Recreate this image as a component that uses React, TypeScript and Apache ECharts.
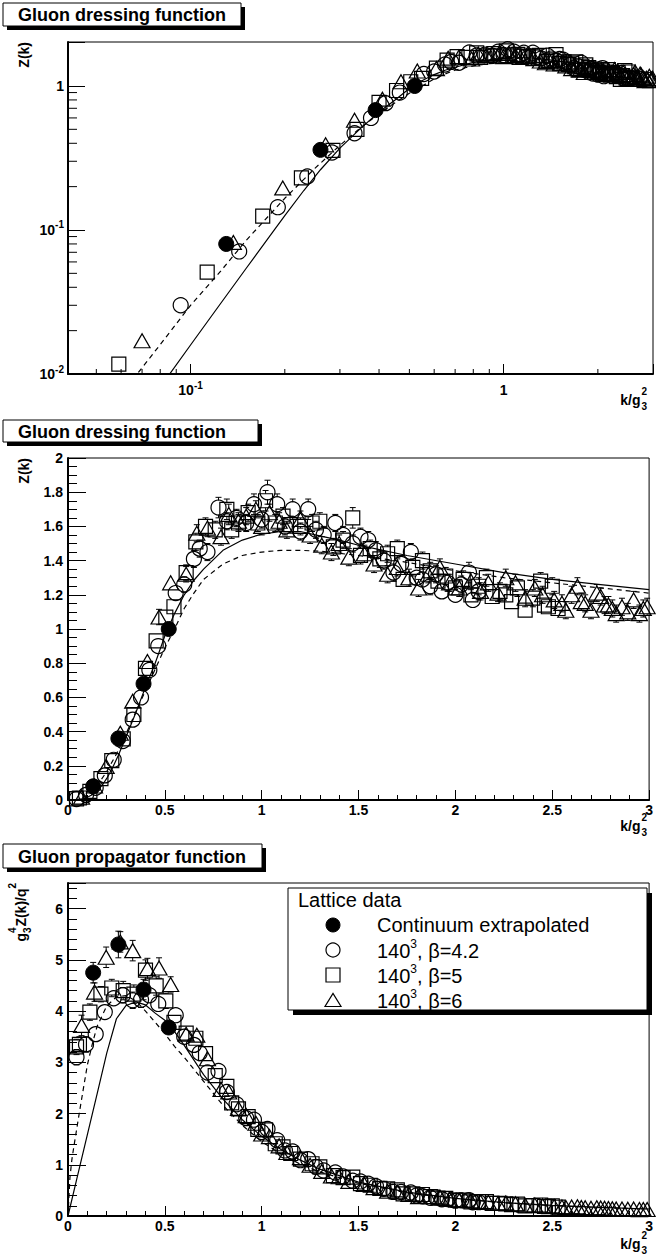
import React, { useEffect, useRef } from "react";
import * as echarts from "echarts";

const FONT = '"Liberation Sans", Arial, Helvetica, sans-serif';

// ---------- Continuum extrapolated (filled circles) ----------
const kCont = [0.13, 0.26, 0.39, 0.52];
const zCont = [0.08, 0.36, 0.68, 1.0];
const zContErr = [0.004, 0.015, 0.02, 0.02];
const dCont = [4.75, 5.3, 4.42, 3.68];
const dContErr = [0.2, 0.26, 0.2, 0.08];

// ---------- 140^3, beta=4.2 (open circles) ----------
const k42 = [
  0.044, 0.093, 0.143, 0.19, 0.236, 0.283, 0.334, 0.377, 0.42, 0.466,
  0.556, 0.6, 0.65, 0.68, 0.72, 0.777, 0.82, 0.87, 0.92, 0.96,
  1.0, 1.03, 1.08, 1.12, 1.16, 1.2, 1.24, 1.28, 1.32, 1.38,
  1.42, 1.47, 1.51, 1.55, 1.59, 1.63, 1.68, 1.72, 1.77, 1.8,
  1.83, 1.87, 1.9, 1.93, 1.96, 2.0, 2.03, 2.07, 2.09, 2.12,
];
const z42 = [
  0.006, 0.03, 0.071, 0.144, 0.235, 0.345, 0.47, 0.6, 0.76, 0.9,
  1.21, 1.26, 1.41, 1.47, 1.45, 1.71, 1.63, 1.65, 1.62, 1.73,
  1.64, 1.8, 1.73, 1.6, 1.7, 1.57, 1.7, 1.58, 1.55, 1.62,
  1.55, 1.5, 1.54, 1.52, 1.46, 1.4, 1.33, 1.38, 1.45, 1.3,
  1.29, 1.25, 1.32, 1.22, 1.27, 1.2, 1.26, 1.33, 1.17, 1.22,
];
const z42Err = [
  0.002, 0.003, 0.005, 0.007, 0.01, 0.012, 0.015, 0.018, 0.02, 0.025,
  0.04, 0.045, 0.05, 0.05, 0.05, 0.06, 0.05, 0.05, 0.05, 0.06,
  0.05, 0.07, 0.06, 0.05, 0.06, 0.05, 0.06, 0.05, 0.05, 0.05,
  0.05, 0.05, 0.05, 0.05, 0.05, 0.05, 0.05, 0.05, 0.05, 0.04,
  0.04, 0.05, 0.05, 0.04, 0.05, 0.04, 0.05, 0.06, 0.04, 0.05,
];
const d42 = [
  3.1, 3.35, 3.55, 3.98, 4.25, 4.31, 4.21, 4.22, 4.31, 4.14,
  3.92, 3.5, 3.34, 3.18, 2.8, 2.83, 2.42, 2.18, 1.91, 1.88,
  1.64, 1.7, 1.48, 1.28, 1.26, 1.09, 1.11, 0.96, 0.89, 0.85,
  0.77, 0.69, 0.675, 0.63, 0.58, 0.53, 0.47, 0.47, 0.46, 0.4,
  0.385, 0.357, 0.366, 0.328, 0.33, 0.3, 0.306, 0.31, 0.268, 0.27,
];
const d42Err = [
  0.15, 0.15, 0.14, 0.13, 0.14, 0.15, 0.16, 0.15, 0.14, 0.14,
  0.13, 0.125, 0.12, 0.11, 0.1, 0.1, 0.075, 0.066, 0.059, 0.065,
  0.05, 0.066, 0.051, 0.04, 0.045, 0.035, 0.039, 0.03, 0.029, 0.026,
  0.025, 0.023, 0.022, 0.021, 0.02, 0.019, 0.018, 0.017, 0.016, 0.012,
  0.012, 0.014, 0.014, 0.011, 0.013, 0.01, 0.012, 0.014, 0.009, 0.011,
];

// ---------- 140^3, beta=5 (open squares) ----------
const k5 = [
  0.044, 0.059, 0.113, 0.17, 0.226, 0.285, 0.34, 0.4, 0.455, 0.505,
  0.547, 0.61, 0.66, 0.71, 0.76, 0.82, 0.845, 0.88, 0.93, 0.98,
  1.02, 1.07, 1.11, 1.15, 1.2, 1.26, 1.3, 1.37, 1.42, 1.47,
  1.51, 1.56, 1.61, 1.65, 1.7, 1.73, 1.78, 1.83, 1.87, 1.91,
  1.95, 2.0, 2.04, 2.08, 2.12, 2.16, 2.19, 2.23, 2.26, 2.29,
  2.32, 2.36, 2.4, 2.44, 2.46, 2.48, 2.5, 2.53,
];
const z5 = [
  0.0064, 0.0117, 0.051, 0.125, 0.23, 0.357, 0.5, 0.77, 0.93, 1.07,
  1.13, 1.33, 1.51, 1.6, 1.58, 1.7, 1.58, 1.62, 1.68, 1.62,
  1.75, 1.62, 1.66, 1.61, 1.6, 1.62, 1.63, 1.48, 1.52, 1.65,
  1.43, 1.47, 1.41, 1.44, 1.47, 1.29, 1.36, 1.4, 1.34, 1.28,
  1.31, 1.24, 1.29, 1.2, 1.25, 1.3, 1.19, 1.22, 1.2, 1.16,
  1.24, 1.11, 1.18, 1.28, 1.14, 1.13, 1.25, 1.12,
];
const z5Err = [
  0.001, 0.002, 0.004, 0.007, 0.01, 0.013, 0.017, 0.02, 0.025, 0.03,
  0.035, 0.045, 0.05, 0.05, 0.05, 0.06, 0.05, 0.05, 0.05, 0.05,
  0.06, 0.05, 0.05, 0.05, 0.05, 0.05, 0.05, 0.05, 0.05, 0.06,
  0.05, 0.05, 0.05, 0.05, 0.05, 0.04, 0.05, 0.05, 0.05, 0.04,
  0.05, 0.04, 0.05, 0.04, 0.05, 0.05, 0.04, 0.05, 0.04, 0.04,
  0.05, 0.04, 0.05, 0.05, 0.04, 0.04, 0.05, 0.04,
];
const d5 = [
  3.3, 3.35, 3.98, 4.33, 4.45, 4.4, 4.33, 4.8, 4.49, 4.2,
  3.78, 3.57, 3.47, 3.17, 2.74, 2.53, 2.21, 2.09, 1.94, 1.69,
  1.68, 1.41, 1.35, 1.22, 1.11, 1.02, 0.96, 0.79, 0.75, 0.76,
  0.63, 0.6, 0.54, 0.53, 0.51, 0.43, 0.43, 0.42, 0.38, 0.35,
  0.345, 0.31, 0.31, 0.277, 0.278, 0.279, 0.248, 0.245, 0.235, 0.221,
  0.23, 0.199, 0.205, 0.215, 0.188, 0.184, 0.2, 0.175,
];
const d5Err = [
  0.15, 0.15, 0.16, 0.15, 0.17, 0.18, 0.18, 0.2, 0.18, 0.15,
  0.12, 0.12, 0.115, 0.1, 0.087, 0.09, 0.07, 0.065, 0.058, 0.052,
  0.055, 0.044, 0.04, 0.038, 0.035, 0.031, 0.03, 0.027, 0.025, 0.028,
  0.022, 0.021, 0.019, 0.018, 0.017, 0.013, 0.016, 0.015, 0.014, 0.011,
  0.013, 0.01, 0.012, 0.009, 0.011, 0.011, 0.008, 0.01, 0.008, 0.008,
  0.009, 0.007, 0.009, 0.008, 0.007, 0.007, 0.008, 0.006,
];

// ---------- 140^3, beta=6 (open triangles) ----------
const k6 = [
  0.07, 0.137, 0.197, 0.27, 0.334, 0.41, 0.47, 0.53, 0.61, 0.665,
  0.72, 0.79, 0.83, 0.88, 0.92, 0.97, 1.0, 1.04, 1.09, 1.13,
  1.2, 1.25, 1.31, 1.36, 1.4, 1.45, 1.53, 1.58, 1.65, 1.7,
  1.76, 1.81, 1.86, 1.92, 1.97, 2.02, 2.08, 2.13, 2.17, 2.22,
  2.26, 2.31, 2.36, 2.41, 2.45, 2.51, 2.55, 2.57, 2.6, 2.63,
  2.65, 2.67, 2.7, 2.73, 2.75, 2.77, 2.79, 2.81, 2.83, 2.86,
  2.89, 2.92, 2.95, 2.97, 2.99,
];
const z6 = [
  0.017, 0.082, 0.196, 0.39, 0.578, 0.81, 1.07, 1.27, 1.32, 1.56,
  1.59, 1.54, 1.67, 1.63, 1.66, 1.7, 1.6, 1.68, 1.63, 1.58,
  1.64, 1.55, 1.49, 1.45, 1.5, 1.42, 1.44, 1.38, 1.32, 1.36,
  1.3, 1.24, 1.32, 1.36, 1.27, 1.24, 1.28, 1.22, 1.27, 1.21,
  1.3, 1.27, 1.18, 1.24, 1.2, 1.17, 1.15, 1.11, 1.2, 1.25,
  1.16, 1.15, 1.11, 1.21, 1.19, 1.14, 1.14, 1.12, 1.09, 1.13,
  1.1, 1.17, 1.09, 1.12, 1.13,
];
const z6Err = [
  0.001, 0.004, 0.008, 0.015, 0.022, 0.03, 0.045, 0.04, 0.045, 0.05,
  0.05, 0.05, 0.06, 0.05, 0.05, 0.05, 0.05, 0.05, 0.05, 0.05,
  0.05, 0.05, 0.05, 0.05, 0.05, 0.05, 0.05, 0.05, 0.05, 0.05,
  0.05, 0.05, 0.05, 0.05, 0.05, 0.05, 0.05, 0.05, 0.05, 0.05,
  0.05, 0.05, 0.05, 0.05, 0.05, 0.05, 0.05, 0.05, 0.05, 0.05,
  0.05, 0.05, 0.05, 0.05, 0.05, 0.05, 0.05, 0.05, 0.05, 0.05,
  0.05, 0.05, 0.05, 0.05, 0.05,
];
const d6 = [
  3.72, 4.37, 5.05, 5.35, 5.18, 4.83, 4.84, 4.52, 3.55, 3.53,
  3.07, 2.47, 2.42, 2.1, 1.96, 1.81, 1.6, 1.55, 1.37, 1.24,
  1.14, 0.99, 0.87, 0.78, 0.765, 0.675, 0.615, 0.553, 0.485, 0.47,
  0.42, 0.378, 0.38, 0.369, 0.327, 0.304, 0.296, 0.269, 0.27, 0.246,
  0.255, 0.238, 0.212, 0.213, 0.2, 0.186, 0.177, 0.168, 0.178, 0.181,
  0.165, 0.161, 0.152, 0.162, 0.157, 0.149, 0.146, 0.142, 0.136, 0.138,
  0.132, 0.137, 0.125, 0.127, 0.126,
];
const d6Err = [
  0.2, 0.18, 0.2, 0.2, 0.2, 0.2, 0.2, 0.15, 0.12, 0.11,
  0.1, 0.08, 0.085, 0.065, 0.059, 0.053, 0.05, 0.046, 0.042, 0.039,
  0.035, 0.032, 0.029, 0.027, 0.026, 0.024, 0.021, 0.02, 0.018, 0.017,
  0.016, 0.015, 0.014, 0.014, 0.013, 0.012, 0.012, 0.011, 0.011, 0.01,
  0.01, 0.009, 0.009, 0.009, 0.008, 0.008, 0.008, 0.008, 0.007, 0.007,
  0.007, 0.007, 0.007, 0.007, 0.007, 0.006, 0.006, 0.006, 0.006, 0.006,
  0.006, 0.006, 0.006, 0.006, 0.006,
];

// ---------- Curves: dressing function Z(k) ----------
const kSolidZ = [
  0.04, 0.06, 0.08, 0.1, 0.12, 0.15, 0.18, 0.2, 0.23, 0.26,
  0.3, 0.35, 0.4, 0.45, 0.5, 0.55, 0.6, 0.65, 0.7, 0.8,
  0.9, 1.0, 1.1, 1.2, 1.3, 1.4, 1.5, 1.75, 2.0, 2.25,
  2.5, 2.75, 3.0,
];
const zSolid = [
  0.001, 0.0034, 0.0081, 0.0159, 0.0275, 0.0536, 0.092, 0.126, 0.188, 0.262,
  0.37, 0.51, 0.66, 0.8, 0.96, 1.09, 1.2, 1.285, 1.35, 1.46,
  1.52, 1.555, 1.57, 1.57, 1.545, 1.52, 1.49, 1.43, 1.38, 1.33,
  1.29, 1.26, 1.23,
];
const kDashZ = [
  0.03, 0.045, 0.06, 0.08, 0.1, 0.125, 0.15, 0.2, 0.25, 0.3,
  0.35, 0.4, 0.45, 0.5, 0.55, 0.6, 0.65, 0.7, 0.8, 0.9,
  1.0, 1.1, 1.2, 1.3, 1.5, 1.75, 2.0, 2.25, 2.5, 2.75,
  3.0,
];
const zDash = [
  0.0009, 0.0035, 0.0072, 0.016, 0.03, 0.052, 0.084, 0.166, 0.269, 0.387,
  0.515, 0.64, 0.765, 0.89, 1.0, 1.12, 1.21, 1.29, 1.38, 1.43,
  1.45, 1.46, 1.46, 1.455, 1.43, 1.39, 1.34, 1.3, 1.27, 1.24,
  1.21,
];

// ---------- Curves: propagator g^4 Z(k)/q^2 ----------
const kSolidD = [
  0, 0.05, 0.1, 0.15, 0.2, 0.25, 0.3, 0.35, 0.4, 0.45,
  0.5, 0.55, 0.6, 0.7, 0.8, 0.9, 1.0, 1.1, 1.2, 1.3,
  1.5, 1.75, 2.0, 2.25, 2.5, 2.75, 3.0,
];
const dSolid = [
  0, 0.8, 1.59, 2.38, 3.18, 3.85, 4.11, 4.18, 4.12, 3.96,
  3.82, 3.6, 3.33, 2.76, 2.28, 1.88, 1.555, 1.3, 1.09, 0.914,
  0.662, 0.467, 0.345, 0.263, 0.206, 0.167, 0.137,
];
const kDashD = [
  0, 0.01, 0.02, 0.03, 0.045, 0.06, 0.08, 0.1, 0.125, 0.15,
  0.2, 0.25, 0.3, 0.35, 0.4, 0.45, 0.5, 0.55, 0.6, 0.7,
  0.8, 0.9, 1.0, 1.1, 1.2, 1.3, 1.5, 1.75, 2.0, 2.25,
  2.5, 2.75, 3.0,
];
const dDash = [
  0, 0.75, 1.1, 1.35, 1.7, 2.05, 2.5, 2.95, 3.35, 3.7,
  4.1, 4.28, 4.3, 4.2, 4.0, 3.78, 3.56, 3.31, 3.1, 2.63,
  2.16, 1.77, 1.45, 1.21, 1.01, 0.86, 0.64, 0.45, 0.335, 0.257,
  0.203, 0.164, 0.134,
];

// ---------- Axis ticks for the log-log panel ----------
const p1XRange = [0.0406, 3];
const p1YRange = [0.01, 2.02];
const p1XMinor = [0.05, 0.06, 0.07, 0.08, 0.09, 0.2, 0.3, 0.4, 0.5, 0.6, 0.7, 0.8, 0.9, 2];
const p1YMinor = [0.02, 0.03, 0.04, 0.05, 0.06, 0.07, 0.08, 0.09, 0.2, 0.3, 0.4, 0.5, 0.6, 0.7, 0.8, 0.9];

const legendNames = [
  "Continuum extrapolated",
  "140^3, β=4.2",
  "140^3, β=5",
  "140^3, β=6",
];
const legendBetas = [", β=4.2", ", β=5", ", β=6"];

// ---------- helpers ----------
const pairs = (k: number[], v: number[]) => k.map((x, i) => [x, v[i]]);
const triples = (k: number[], v: number[], e: number[]) => k.map((x, i) => [x, v[i], e[i]]);

const BLACK = "#000";
const openItem = { color: "rgba(0,0,0,0)", borderColor: BLACK, borderWidth: 1.2, opacity: 1 };
const filledItem = { color: BLACK, borderColor: BLACK, borderWidth: 1, opacity: 1 };

const SYM = {
  cont: { symbol: "circle", size: 15 },
  b42: { symbol: "circle", size: 15 },
  b5: { symbol: "rect", size: 14 },
  b6: { symbol: "triangle", size: [16, 14] },
};

function scatter(name: string, sym: any, gi: number, data: number[][], filled = false) {
  return {
    type: "scatter",
    name,
    xAxisIndex: gi,
    yAxisIndex: gi,
    symbol: sym.symbol,
    symbolSize: sym.size,
    data,
    itemStyle: filled ? filledItem : openItem,
    emphasis: { disabled: true },
    silent: true,
    z: filled ? 4 : 3,
  };
}

function line(name: string, gi: number, data: number[][], dashed: boolean) {
  return {
    type: "line",
    name,
    xAxisIndex: gi,
    yAxisIndex: gi,
    data,
    showSymbol: false,
    symbol: "none",
    clip: true,
    lineStyle: { color: BLACK, width: 1.2, type: dashed ? [5, 4] : "solid", opacity: 1 },
    silent: true,
    z: 2,
  };
}

function errorBars(gi: number, data: number[][], half: number) {
  return {
    type: "custom",
    xAxisIndex: gi,
    yAxisIndex: gi,
    data,
    silent: true,
    z: 2,
    renderItem: (_p: any, api: any) => {
      const x = api.value(0);
      const y = api.value(1);
      const e = api.value(2);
      const c = api.coord([x, y]);
      const t = api.coord([x, y + e]);
      const b = api.coord([x, y - e]);
      const st = { stroke: BLACK, lineWidth: 1 };
      const children: any[] = [];
      if (c[1] - t[1] > half + 0.5) {
        children.push({ type: "line", shape: { x1: c[0], y1: c[1] - half, x2: t[0], y2: t[1] }, style: st });
        children.push({ type: "line", shape: { x1: t[0] - 3, y1: t[1], x2: t[0] + 3, y2: t[1] }, style: st });
      }
      if (b[1] - c[1] > half + 0.5) {
        children.push({ type: "line", shape: { x1: c[0], y1: c[1] + half, x2: b[0], y2: b[1] }, style: st });
        children.push({ type: "line", shape: { x1: b[0] - 3, y1: b[1], x2: b[0] + 3, y2: b[1] }, style: st });
      }
      return { type: "group", children };
    },
  };
}

function minorTicks(gi: number, data: number[][], dir: "x" | "y", len: number) {
  return {
    type: "custom",
    xAxisIndex: gi,
    yAxisIndex: gi,
    data,
    silent: true,
    clip: false,
    z: 5,
    renderItem: (_p: any, api: any) => {
      const p = api.coord([api.value(0), api.value(1)]);
      const shape =
        dir === "x"
          ? { x1: p[0], y1: p[1], x2: p[0], y2: p[1] - len }
          : { x1: p[0], y1: p[1], x2: p[0] + len, y2: p[1] };
      return { type: "line", shape, style: { stroke: BLACK, lineWidth: 1 } };
    },
  };
}

const labelRich = {
  b: { fontFamily: FONT, fontWeight: "bold", fontSize: 14, lineHeight: 20, color: BLACK },
  s: { fontFamily: FONT, fontWeight: "bold", fontSize: 10, lineHeight: 10, verticalAlign: "top", color: BLACK },
};

const logLabel = (v: number) => {
  const l = Math.log10(v);
  const e = Math.round(l);
  if (Math.abs(l - e) > 1e-6) return "";
  if (e === 0) return "{b|1}";
  return `{b|10}{s|${e}}`;
};

const axisLine = { show: true, onZero: false, lineStyle: { color: BLACK, width: 2 } };

function valueAxis(gi: number, min: number, max: number, interval: number, majorLen: number, minorLen: number, split: number, margin: number, extra: any = {}) {
  return {
    type: "value",
    gridIndex: gi,
    min,
    max,
    interval,
    axisLine,
    axisTick: { show: true, inside: true, length: majorLen, lineStyle: { color: BLACK, width: 1 } },
    minorTick: { show: true, splitNumber: split, length: minorLen, lineStyle: { color: BLACK, width: 1 } },
    splitLine: { show: false },
    minorSplitLine: { show: false },
    axisLabel: { color: BLACK, fontFamily: FONT, fontWeight: "bold", fontSize: 14, margin, ...extra },
  };
}

function titleBox(x: number, y: number, w: number, h: number, text: string, off: number) {
  return [
    { type: "rect", shape: { x: x + off, y: y + off, width: w, height: h }, style: { fill: BLACK } },
    { type: "rect", shape: { x, y, width: w, height: h }, style: { fill: "#fff", stroke: BLACK, lineWidth: 1 } },
    {
      type: "text",
      x: x + 15,
      y: y + h / 2 + 0.5,
      style: { text, font: `bold 18px ${FONT}`, fill: BLACK, align: "left", verticalAlign: "middle" },
    },
  ];
}

function xTitle(cy: number) {
  return [
    { type: "text", x: 640.5, y: cy, style: { text: "k/g", font: `bold 14px ${FONT}`, fill: BLACK, align: "right", verticalAlign: "middle" } },
    { type: "text", x: 641.5, y: cy - 9, style: { text: "2", font: `bold 10px ${FONT}`, fill: BLACK, align: "left", verticalAlign: "middle" } },
    { type: "text", x: 641.5, y: cy + 6, style: { text: "3", font: `bold 10px ${FONT}`, fill: BLACK, align: "left", verticalAlign: "middle" } },
  ];
}

function yTitleZ(cx: number, top: number) {
  return {
    type: "text",
    x: cx,
    y: top,
    rotation: Math.PI / 2,
    style: { text: "Z(k)", font: `bold 14px ${FONT}`, fill: BLACK, align: "right", verticalAlign: "middle" },
  };
}

function yTitleProp(cx: number, top: number) {
  const f14 = `bold 14px ${FONT}`;
  const f10 = `bold 10px ${FONT}`;
  return {
    type: "group",
    x: cx,
    y: top,
    rotation: Math.PI / 2,
    children: [
      { type: "text", x: 0, y: -9, style: { text: "2", font: f10, fill: BLACK, align: "right", verticalAlign: "middle" } },
      { type: "text", x: -5.5, y: 0, style: { text: "Z(k)/q", font: f14, fill: BLACK, align: "right", verticalAlign: "middle" } },
      { type: "text", x: -44.5, y: -9, style: { text: "4", font: f10, fill: BLACK, align: "right", verticalAlign: "middle" } },
      { type: "text", x: -44.5, y: 6, style: { text: "3", font: f10, fill: BLACK, align: "right", verticalAlign: "middle" } },
      { type: "text", x: -50, y: 0, style: { text: "g", font: f14, fill: BLACK, align: "right", verticalAlign: "middle" } },
    ],
  };
}

function legendGraphic() {
  const f20 = `20px ${FONT}`;
  const sx = 333;
  const tx = 377;
  const rows = [925, 950, 975, 1000];
  const st = { stroke: BLACK, lineWidth: 1.2, fill: "#fff" };
  const rich = {
    m: { fontFamily: FONT, fontSize: 20, lineHeight: 26, color: BLACK },
    s: { fontFamily: FONT, fontSize: 12, lineHeight: 12, verticalAlign: "top", color: BLACK },
  };
  const els: any[] = [
    { type: "rect", shape: { x: 293, y: 893, width: 359, height: 122 }, style: { fill: BLACK } },
    { type: "rect", shape: { x: 288, y: 888, width: 359, height: 122 }, style: { fill: "#fff", stroke: BLACK, lineWidth: 1 } },
    { type: "text", x: 298, y: 900, style: { text: "Lattice data", font: f20, fill: BLACK, align: "left", verticalAlign: "middle" } },
    { type: "circle", shape: { cx: sx, cy: rows[0], r: 7 }, style: { fill: BLACK, stroke: BLACK, lineWidth: 1 } },
    { type: "text", x: tx, y: rows[0], style: { text: legendNames[0], font: f20, fill: BLACK, align: "left", verticalAlign: "middle" } },
    { type: "circle", shape: { cx: sx, cy: rows[1], r: 7 }, style: st },
    { type: "rect", shape: { x: sx - 7, y: rows[2] - 7, width: 14, height: 14 }, style: st },
    { type: "polygon", shape: { points: [[sx - 8, rows[3] + 6.5], [sx + 8, rows[3] + 6.5], [sx, rows[3] - 6.5]] }, style: st },
  ];
  for (let i = 0; i < 3; i++) {
    els.push({
      type: "text",
      x: tx,
      y: rows[i + 1] + 1,
      style: { text: `{m|140}{s|3}{m|${legendBetas[i]}}`, rich, fill: BLACK, align: "left", verticalAlign: "middle" },
    });
  }
  return els;
}

function buildOption(): any {
  const grids = [
    { left: 68, top: 42, width: 587, height: 332 },
    { left: 68, top: 458, width: 587, height: 342 },
    { left: 68, top: 883, width: 587, height: 333 },
  ].map((g) => ({ ...g, show: true, borderColor: BLACK, borderWidth: 1, backgroundColor: "transparent", containLabel: false }));

  const xAxis: any[] = [
    {
      type: "log",
      logBase: 10,
      gridIndex: 0,
      min: p1XRange[0],
      max: p1XRange[1],
      axisLine,
      axisTick: { show: true, inside: true, length: 10, lineStyle: { color: BLACK, width: 1 } },
      splitLine: { show: false },
      axisLabel: { formatter: logLabel, rich: labelRich, margin: 6, interval: 0 },
    },
    valueAxis(1, 0, 3, 0.5, 10, 5, 5, 3),
    valueAxis(2, 0, 3, 0.5, 10, 5, 5, 3),
  ];
  const yAxis: any[] = [
    {
      type: "log",
      logBase: 10,
      gridIndex: 0,
      min: p1YRange[0],
      max: p1YRange[1],
      axisLine,
      axisTick: { show: true, inside: true, length: 17, lineStyle: { color: BLACK, width: 1 } },
      splitLine: { show: false },
      axisLabel: { formatter: logLabel, rich: labelRich, margin: 4, interval: 0 },
    },
    valueAxis(1, 0, 2, 0.2, 18, 9, 4, 5),
    valueAxis(2, 0, 6.5, 1, 18, 9, 5, 5, { showMaxLabel: false }),
  ];

  const series: any[] = [];
  // Panel 1 : log-log dressing function
  series.push(line("solid Z", 0, pairs(kSolidZ, zSolid), false));
  series.push(line("dashed Z", 0, pairs(kDashZ, zDash), true));
  series.push(scatter(legendNames[1], SYM.b42, 0, pairs(k42, z42)));
  series.push(scatter(legendNames[2], SYM.b5, 0, pairs(k5, z5)));
  series.push(scatter(legendNames[3], SYM.b6, 0, pairs(k6, z6)));
  series.push(scatter(legendNames[0], SYM.cont, 0, pairs(kCont, zCont), true));
  series.push(minorTicks(0, p1XMinor.map((v) => [v, p1YRange[0]]), "x", 5));
  series.push(minorTicks(0, p1YMinor.map((v) => [p1XRange[0], v]), "y", 9));

  // Panel 2 : linear dressing function
  series.push(line("solid Z lin", 1, pairs(kSolidZ, zSolid), false));
  series.push(line("dashed Z lin", 1, pairs(kDashZ, zDash), true));
  series.push(errorBars(1, triples(k42, z42, z42Err), 7));
  series.push(errorBars(1, triples(k5, z5, z5Err), 7));
  series.push(errorBars(1, triples(k6, z6, z6Err), 7));
  series.push(errorBars(1, triples(kCont, zCont, zContErr), 7));
  series.push(scatter(legendNames[1], SYM.b42, 1, pairs(k42, z42)));
  series.push(scatter(legendNames[2], SYM.b5, 1, pairs(k5, z5)));
  series.push(scatter(legendNames[3], SYM.b6, 1, pairs(k6, z6)));
  series.push(scatter(legendNames[0], SYM.cont, 1, pairs(kCont, zCont), true));

  // Panel 3 : propagator
  series.push(line("solid D", 2, pairs(kSolidD, dSolid), false));
  series.push(line("dashed D", 2, pairs(kDashD, dDash), true));
  series.push(errorBars(2, triples(k42, d42, d42Err), 7));
  series.push(errorBars(2, triples(k5, d5, d5Err), 7));
  series.push(errorBars(2, triples(k6, d6, d6Err), 7));
  series.push(errorBars(2, triples(kCont, dCont, dContErr), 7));
  series.push(scatter(legendNames[1], SYM.b42, 2, pairs(k42, d42)));
  series.push(scatter(legendNames[2], SYM.b5, 2, pairs(k5, d5)));
  series.push(scatter(legendNames[3], SYM.b6, 2, pairs(k6, d6)));
  series.push(scatter(legendNames[0], SYM.cont, 2, pairs(kCont, dCont), true));

  const graphic: any[] = [
    ...titleBox(3, 3, 238, 23, "Gluon dressing function", 4),
    ...titleBox(3, 420, 255, 22, "Gluon dressing function", 4),
    ...titleBox(3, 844, 259, 24, "Gluon propagator function", 4),
    yTitleZ(24, 42),
    yTitleZ(24, 458),
    yTitleProp(21, 883),
    ...xTitle(400),
    ...xTitle(826),
    ...xTitle(1244),
    ...legendGraphic(),
  ];

  return {
    animation: false,
    backgroundColor: "#fff",
    textStyle: { fontFamily: FONT },
    grid: grids,
    xAxis,
    yAxis,
    series,
    graphic: { elements: graphic },
  };
}

export default function App() {
  const ref = useRef<HTMLDivElement>(null);
  useEffect(() => {
    document.body.style.margin = "0";
    if (!ref.current) return;
    const chart = echarts.init(ref.current, undefined, { renderer: "svg" });
    chart.setOption(buildOption());
    return () => chart.dispose();
  }, []);
  return <div ref={ref} style={{ width: 656, height: 1256 }} />;
}
